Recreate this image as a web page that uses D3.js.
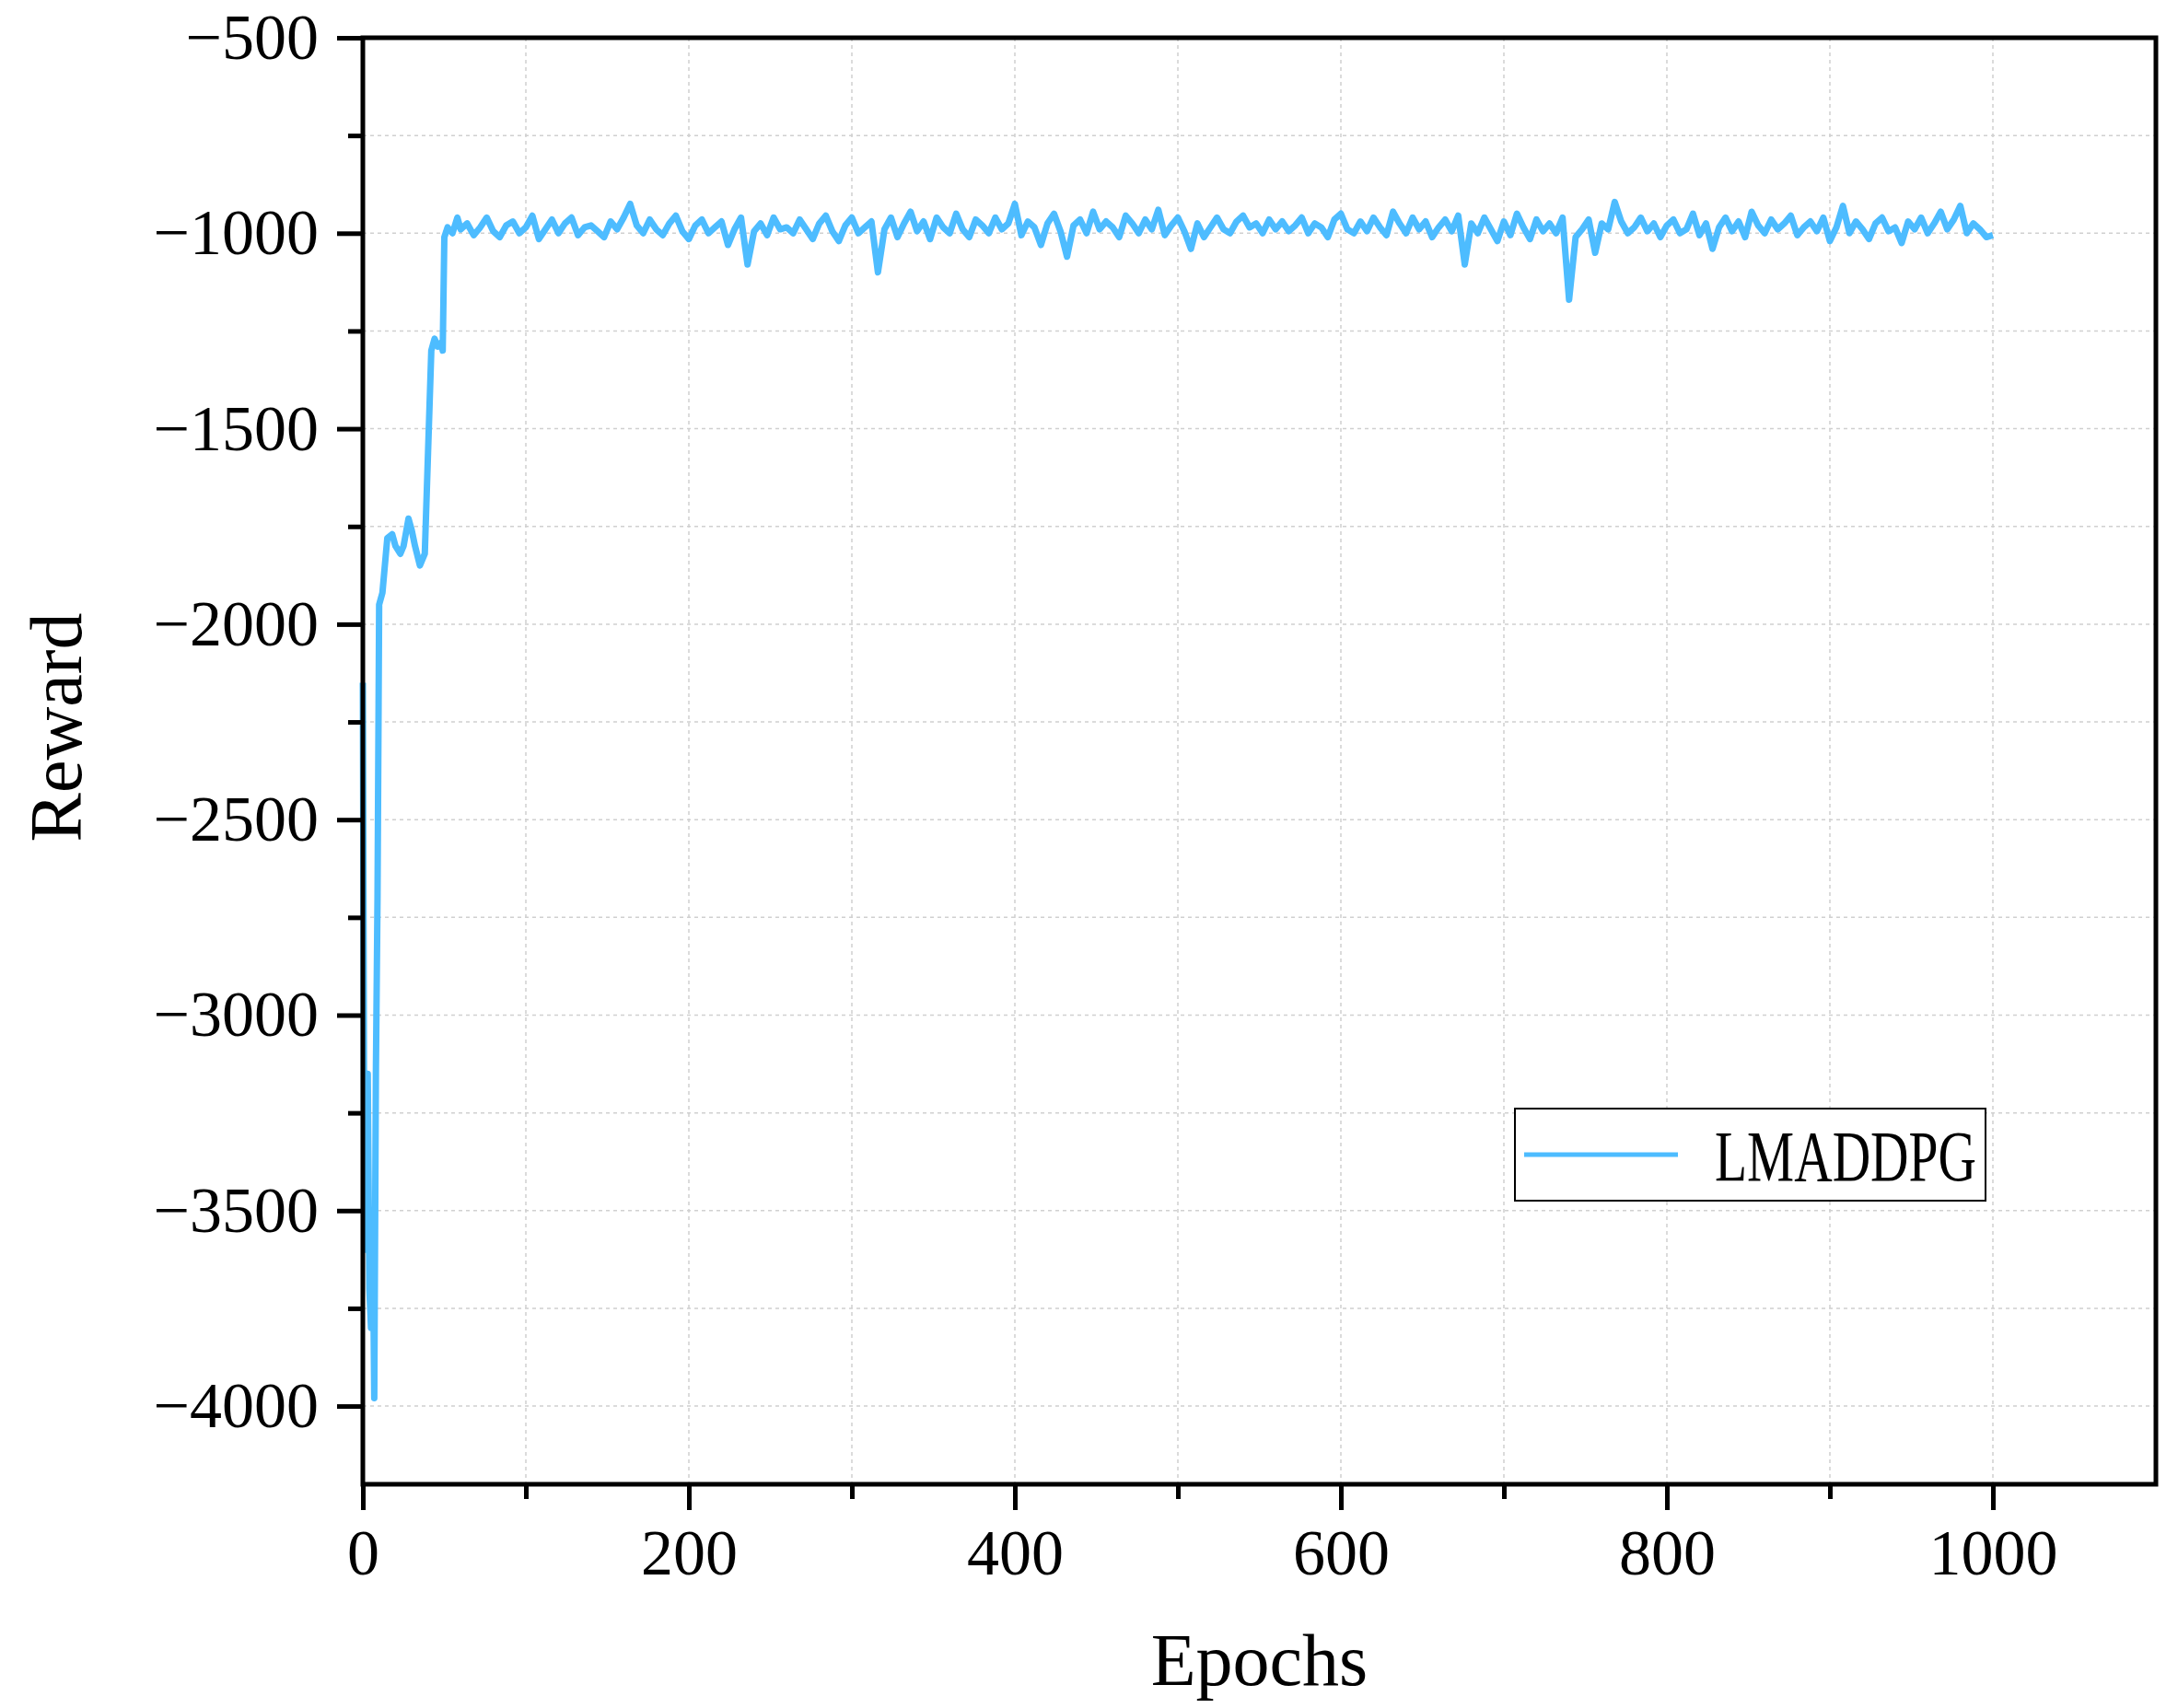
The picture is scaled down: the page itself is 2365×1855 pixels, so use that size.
<!DOCTYPE html><html><head><meta charset="utf-8"><script src="https://cdn.jsdelivr.net/npm/d3@7"></script>
<style>body{margin:0;background:#fff}</style></head><body><svg id="c" width="2365" height="1855"></svg><script>
const seriesName="LMADDPG";
const earlyEpochs=[0,1,2,3,4,5,6,7,8,9,10,12,15,18,20,23,25,28,30,32,35,38,40,42,44,46,48,49,50,52,55,58];
const earlyReward=[-2150,-3600,-3300,-3150,-3700,-3800,-3500,-3980,-3150,-2700,-1950,-1920,-1780,-1770,-1800,-1820,-1800,-1730,-1760,-1800,-1850,-1820,-1560,-1300,-1270,-1290,-1280,-1300,-1010,-985,-1000,-960];
const lateReward=[
-990,-975,-1005,-985,-960,-995,-1010,-980,-970,-1000,
-985,-955,-1015,-990,-965,-1000,-975,-960,-1005,-985,
-980,-995,-1010,-970,-990,-960,-925,-980,-1000,-965,
-990,-1005,-975,-955,-995,-1015,-980,-965,-1000,-985,
-970,-1030,-990,-960,-1080,-995,-975,-1005,-960,-990,
-985,-1000,-965,-990,-1015,-975,-955,-995,-1020,-980,
-960,-1000,-985,-970,-1100,-990,-960,-1010,-975,-945,
-995,-970,-1015,-960,-985,-1000,-950,-990,-1010,-965,
-980,-1000,-960,-990,-975,-925,-1005,-970,-985,-1030,
-975,-950,-995,-1060,-980,-965,-1000,-945,-990,-970,
-985,-1010,-955,-975,-1000,-965,-990,-940,-1005,-980,
-960,-995,-1040,-975,-1010,-985,-960,-990,-1000,-970,
-955,-985,-975,-1000,-965,-990,-970,-995,-980,-960,
-1000,-975,-985,-1010,-965,-950,-990,-1000,-970,-995,
-960,-985,-1005,-945,-975,-1000,-960,-990,-970,-1010,
-985,-965,-995,-955,-1080,-975,-1000,-960,-990,-1020,
-970,-1005,-950,-985,-1015,-965,-995,-975,-1000,-960,
-1170,-1010,-990,-965,-1050,-975,-990,-920,-970,-1000,
-985,-960,-995,-975,-1010,-980,-965,-1000,-990,-950,
-1005,-975,-1040,-985,-960,-995,-970,-1010,-945,-980,
-1000,-965,-990,-975,-955,-1005,-985,-970,-995,-960,
-1020,-985,-930,-1000,-970,-990,-1015,-975,-960,-995,
-985,-1025,-970,-990,-960,-1000,-975,-945,-990,-965,
-930,-1000,-975,-990,-1010,-1005];
const lateEpochs=d3.range(60,1001,4);
const xTicks=[0,200,400,600,800,1000];
const yTicks=[-500,-1000,-1500,-2000,-2500,-3000,-3500,-4000];
const data=earlyEpochs.map((e,i)=>[e,earlyReward[i]]).concat(lateEpochs.map((e,i)=>[e,lateReward[i]]));

const L=394,R=2341,T=41,B=1612;
const svg=d3.select("#c");
const x=d3.scaleLinear().domain([0,1100]).range([L,R]);
const y=d3.scaleLinear().domain([-4200,-500]).range([B,T]);
const font="'Liberation Serif','DejaVu Serif',serif";
const g=svg.append("g").attr("stroke","#d0d0d0").attr("stroke-width",1.5).attr("stroke-dasharray","4,4");
d3.range(100,1100,100).forEach(v=>g.append("line").attr("x1",x(v)).attr("x2",x(v)).attr("y1",T).attr("y2",B));
d3.range(-4000,-500,250).forEach(v=>g.append("line").attr("x1",L).attr("x2",R).attr("y1",y(v)).attr("y2",y(v)));
svg.append("path").datum(data).attr("fill","none").attr("stroke","#4dbcff").attr("stroke-width",7).attr("stroke-linejoin","round")
 .attr("d",d3.line().x(d=>x(d[0])).y(d=>y(d[1])));
svg.append("rect").attr("x",L).attr("y",T).attr("width",R-L).attr("height",B-T).attr("fill","none").attr("stroke","#000").attr("stroke-width",5);
const xa=svg.append("g").attr("transform",`translate(0,${B})`).call(d3.axisBottom(x).tickValues(xTicks).tickSize(28).tickPadding(20).tickFormat(d3.format("d")));
const xm=svg.append("g").attr("transform",`translate(0,${B})`).call(d3.axisBottom(x).tickValues(d3.range(100,1100,200)).tickSize(16).tickFormat(""));
const ya=svg.append("g").attr("transform",`translate(${L},0)`).call(d3.axisLeft(y).tickValues(yTicks).tickSize(28).tickPadding(20).tickFormat(d=>"\u2212"+Math.abs(d)));
const ym=svg.append("g").attr("transform",`translate(${L},0)`).call(d3.axisLeft(y).tickValues(d3.range(-3750,-500,500)).tickSize(16).tickFormat(""));
[xa,xm,ya,ym].forEach(a=>{a.select(".domain").remove();a.selectAll("line").attr("stroke","#000").attr("stroke-width",5);
 a.selectAll("text").attr("font-family",font).attr("font-size",70).attr("fill","#000");});
svg.append("text").attr("x",(L+R)/2).attr("y",1830).attr("text-anchor","middle").attr("font-family",font).attr("font-size",80).text("Epochs");
svg.append("text").attr("transform","translate(88,790) rotate(-90)").attr("text-anchor","middle").attr("font-family",font).attr("font-size",80).text("Reward");
const lg=svg.append("g");
lg.append("rect").attr("x",1645).attr("y",1204).attr("width",511).attr("height",100).attr("fill","#fff").attr("stroke","#000").attr("stroke-width",2);
lg.append("line").attr("x1",1655).attr("x2",1822).attr("y1",1254).attr("y2",1254).attr("stroke","#4dbcff").attr("stroke-width",5);
lg.append("text").attr("x",1862).attr("y",1282).attr("font-family",font).attr("font-size",78).attr("textLength",284).attr("lengthAdjust","spacingAndGlyphs").text(seriesName);
</script></body></html>
